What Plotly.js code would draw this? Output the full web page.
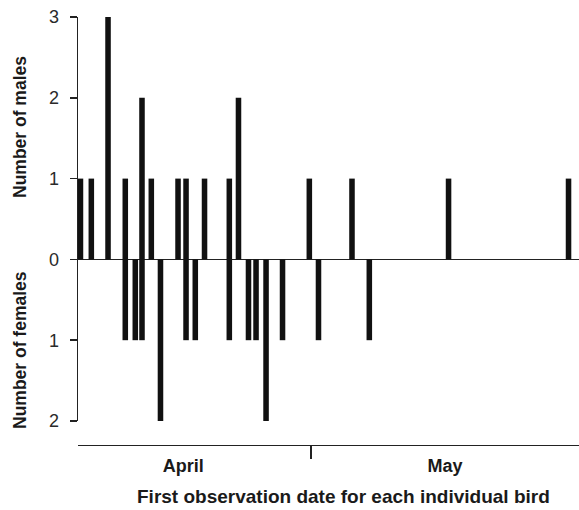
<!DOCTYPE html>
<html>
<head>
<meta charset="utf-8">
<script src="https://cdn.plot.ly/plotly-3.0.1.min.js"></script>
<style>html,body{margin:0;padding:0;background:#fff;}#chart{width:579px;height:510px;}</style>
</head>
<body>
<div id="chart"></div>
<script>
// Observation day (1 = 1 April, 31 = 1 May)
var maleDays = [1.06, 2.47, 4.64, 6.88, 9.05, 10.26, 13.73, 14.77, 17.17, 20.39, 21.58, 30.78, 36.32, 48.86, 64.44];
var maleCounts = [1, 1, 3, 1, 2, 1, 1, 1, 1, 1, 2, 1, 1, 1, 1];
var femaleDays = [6.88, 8.18, 9.05, 11.45, 14.77, 15.97, 20.39, 22.88, 23.86, 25.16, 27.3, 31.97, 38.57];
var femaleCounts = [1, 1, 1, 2, 1, 1, 1, 1, 1, 2, 1, 1, 1];
var yTickVals = [-2, -1, 0, 1, 2, 3];
var yTickText = ['2', '1', '0', '1', '2', '3'];
var monthNames = ['April', 'May'];
var monthLabelDays = [14.4, 48.4];
var monthBoundary = [31];

var ink = '#111111';
var traces = [
  {type: 'bar', x: maleDays, y: maleCounts, width: 0.72, marker: {color: ink, line: {width: 0}}, name: 'Males', xaxis: 'x', yaxis: 'y'},
  {type: 'bar', x: femaleDays, y: femaleCounts.map(function (v) { return -v; }), width: 0.72, marker: {color: ink, line: {width: 0}}, name: 'Females', xaxis: 'x', yaxis: 'y'}
];

var yDomBottom = (445 - 421) / 428;
var font = {family: 'Liberation Sans, Arial, Helvetica, sans-serif', color: '#1a1a1a'};
var layout = {
  width: 579, height: 510,
  margin: {l: 78, r: 0, t: 17, b: 65, pad: 0},
  paper_bgcolor: '#fff', plot_bgcolor: 'rgba(0,0,0,0)',
  showlegend: false,
  barmode: 'overlay',
  font: font,
  xaxis: {
    range: [0.74, 65.8], domain: [0, 1], anchor: 'free', position: 0,
    showline: true, linecolor: '#222', linewidth: 1.2,
    showgrid: false, zeroline: false,
    tickmode: 'array', tickvals: monthLabelDays, ticktext: monthNames,
    ticks: '', ticklabelstandoff: 4,
    tickfont: {family: font.family, size: 18, color: '#1a1a1a', weight: 'bold'},
    minor: {tickmode: 'array', tickvals: monthBoundary, ticks: 'outside', ticklen: 13, tickwidth: 1.3, tickcolor: '#222'}
  },
  xaxis2: {
    range: [0.74, 65.8], domain: [0, 1], overlaying: 'x', anchor: 'free', position: 0,
    showline: false, showgrid: false, zeroline: false,
    tickmode: 'array', tickvals: monthBoundary, ticks: 'inside', ticklen: 8, tickwidth: 1.3, tickcolor: '#222',
    showticklabels: false
  },
  yaxis: {
    range: [-2, 3], domain: [yDomBottom, 1], anchor: 'x',
    showline: true, linecolor: '#222', linewidth: 1.5,
    showgrid: false,
    zeroline: true, zerolinecolor: '#222', zerolinewidth: 1.5,
    tickmode: 'array', tickvals: yTickVals, ticktext: yTickText,
    ticks: 'outside', ticklen: 7, tickwidth: 1.5, tickcolor: '#222',
    ticklabelstandoff: 7,
    tickfont: {family: font.family, size: 18, color: '#2a2a2a'}
  },
  yaxis2: {
    range: [-2, 3], domain: [yDomBottom, 1], overlaying: 'y', anchor: 'x', side: 'left',
    showline: false, showgrid: false, zeroline: false,
    tickmode: 'array', tickvals: yTickVals, ticks: 'inside', ticklen: 6, tickwidth: 1.5, tickcolor: '#222',
    showticklabels: false
  },
  annotations: [
    {text: 'Number of males', xref: 'paper', yref: 'paper', x: 0, y: 0, xanchor: 'center', yanchor: 'middle', textangle: -90, showarrow: false,
     font: {family: font.family, size: 17.5, color: '#1a1a1a', weight: 'bold'}},
    {text: 'Number of females', xref: 'paper', yref: 'paper', x: 0, y: 0, xanchor: 'center', yanchor: 'middle', textangle: -90, showarrow: false,
     font: {family: font.family, size: 17.5, color: '#1a1a1a', weight: 'bold'}},
    {text: 'First observation date for each individual bird', xref: 'paper', yref: 'paper', x: 0, y: 0, xanchor: 'center', yanchor: 'middle', showarrow: false,
     font: {family: font.family, size: 19, color: '#1a1a1a', weight: 'bold'}}
  ]
};
// place titles at pixel positions of the reference (convert to paper coords)
var plotH = 510 - 17 - 65, plotW = 579 - 78;
function py(pix) { return (510 - 65 - pix) / plotH; }
function px(pix) { return (pix - 78) / plotW; }
layout.annotations[0].x = px(20); layout.annotations[0].y = py(127);
layout.annotations[1].x = px(20); layout.annotations[1].y = py(350);
layout.annotations[2].x = px(343.5); layout.annotations[2].y = py(497);

Plotly.newPlot('chart', traces, layout, {displayModeBar: false, staticPlot: true});
</script>
</body>
</html>
